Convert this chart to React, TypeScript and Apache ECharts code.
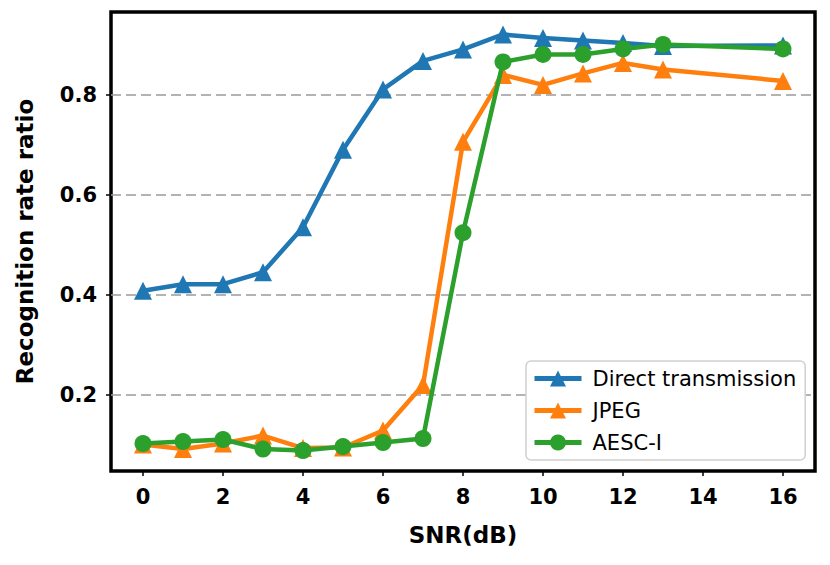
import React, { useEffect, useRef } from "react";
import * as echarts from "echarts";

const snr = [0, 1, 2, 3, 4, 5, 6, 7, 8, 9, 10, 11, 12, 13, 16];
const direct = [0.408, 0.421, 0.421, 0.445, 0.535, 0.69, 0.811, 0.868, 0.891, 0.921, 0.914, 0.909, 0.904, 0.898, 0.899];
const jpeg = [0.1, 0.091, 0.102, 0.118, 0.093, 0.094, 0.128, 0.219, 0.706, 0.84, 0.82, 0.843, 0.864, 0.851, 0.828];
const aesc = [0.102, 0.106, 0.11, 0.091, 0.088, 0.096, 0.104, 0.112, 0.524, 0.866, 0.881, 0.881, 0.892, 0.901, 0.892];
const xTicks = [0, 2, 4, 6, 8, 10, 12, 14, 16];
const yTicks = [0.2, 0.4, 0.6, 0.8];
const names = ["Direct transmission", "JPEG", "AESC-I"];
const colors = ["#1f77b4", "#ff7f0e", "#2ca02c"];
const symbols = ["triangle", "triangle", "circle"];

const FONT = "DejaVu Sans";

export default function App() {
  const ref = useRef<HTMLDivElement>(null);
  useEffect(() => {
    if (!ref.current) return;
    const chart = echarts.init(ref.current, null, { renderer: "svg" });
    const all = [direct, jpeg, aesc];
    chart.setOption({
      animation: false,
      backgroundColor: "#fff",
      grid: {
        left: 111,
        right: 15,
        top: 12,
        bottom: 94,
        show: true,
        borderColor: "#000",
        borderWidth: 3.5,
        containLabel: false,
      },
      legend: {
        orient: "vertical",
        left: 526,
        top: 361,
        padding: [7, 9, 7, 6],
        itemWidth: 47,
        itemHeight: 20,
        itemGap: 11,
        backgroundColor: "#fff",
        borderColor: "#d0d0d0",
        borderWidth: 1.5,
        borderRadius: 5,
        data: names,
        lineStyle: { width: 5 },
        textStyle: {
          fontFamily: FONT,
          fontSize: 21,
          color: "#000",
          padding: [0, 0, 0, 6],
        },
      },
      xAxis: {
        type: "value",
        min: -0.8,
        max: 16.8,
        name: "SNR(dB)",
        nameLocation: "middle",
        nameGap: 52,
        nameTextStyle: { fontFamily: FONT, fontWeight: "bold", fontSize: 23, color: "#000" },
        axisLine: { show: false, onZero: false },
        axisTick: { show: true, length: 5, customValues: xTicks, lineStyle: { color: "#000", width: 1.5 } },
        axisLabel: {
          customValues: xTicks,
          margin: 15,
          fontFamily: FONT,
          fontWeight: "bold",
          fontSize: 21,
          color: "#000",
        },
        splitLine: { show: false },
      },
      yAxis: {
        type: "value",
        min: 0.047,
        max: 0.966,
        name: "Recognition rate ratio",
        nameLocation: "middle",
        nameGap: 75,
        nameTextStyle: { fontFamily: FONT, fontWeight: "bold", fontSize: 23, color: "#000" },
        axisLine: { show: false, onZero: false },
        axisTick: { show: true, length: 5, customValues: yTicks, lineStyle: { color: "#000", width: 1.5 } },
        axisLabel: {
          customValues: yTicks,
          margin: 14,
          fontFamily: FONT,
          fontWeight: "bold",
          fontSize: 21,
          color: "#000",
          formatter: (v: number) => v.toFixed(1),
        },
        splitLine: { show: true, lineStyle: { color: "#9a9a9a", type: [10, 5], width: 1.5 } },
      },
      series: names.map((n, i) => ({
        name: n,
        type: "line",
        data: snr.map((x, j) => [x, all[i][j]]),
        symbol: symbols[i],
        symbolSize: i === 2 ? 17 : 18,
        showSymbol: true,
        lineStyle: { color: colors[i], width: 4.5 },
        itemStyle: { color: colors[i] },
        emphasis: { disabled: true },
        z: 2 + i,
      })),
    });
    return () => chart.dispose();
  }, []);
  return (
    <div
      ref={ref}
      style={{ position: "absolute", left: 0, top: 0, width: 830, height: 565 }}
    />
  );
}
